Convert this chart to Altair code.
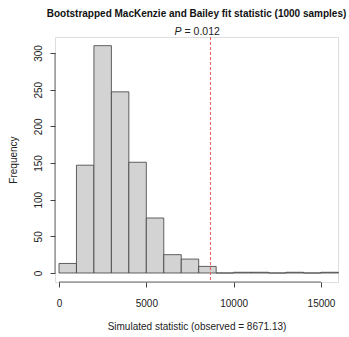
import altair as alt
import pandas as pd

# ---- data ----
bin_starts = [0, 1000, 2000, 3000, 4000, 5000, 6000, 7000, 8000, 9000,
              10000, 11000, 12000, 13000, 14000, 15000]
bin_ends = [1000, 2000, 3000, 4000, 5000, 6000, 7000, 8000, 9000, 10000,
            11000, 12000, 13000, 14000, 15000, 16000]
counts = [13, 147, 310, 247, 151, 75, 25, 19, 9, 0, 1, 1, 0, 1, 0, 1]
observed = 8671.13
p_text = "= 0.012"
x_ticks = [0, 5000, 10000, 15000]
y_ticks = [0, 50, 100, 150, 200, 250, 300]

title_text = "Bootstrapped MacKenzie and Bailey fit statistic (1000 samples)"
x_title = "Simulated statistic (observed = 8671.13)"
y_title = "Frequency"

FONT = "Liberation Sans"
FS = 10
W, H = 283, 245

bars_df = pd.DataFrame({"start": bin_starts, "end": bin_ends, "count": counts})
xaxis_df = pd.DataFrame({"x": [x_ticks[0]], "x2": [x_ticks[-1]]})
yaxis_df = pd.DataFrame({"y": [y_ticks[0]], "y2": [y_ticks[-1]]})
obs_df = pd.DataFrame({"obs": [observed]})
one = pd.DataFrame({"a": [0]})

xscale = alt.Scale(domain=[-229, 15975], nice=False, zero=False)
yscale = alt.Scale(domain=[-12.27, 321.8], nice=False, zero=False)

bars = alt.Chart(bars_df).mark_rect(
    fill="#D3D3D3", stroke="#3c3c3c", strokeWidth=0.8, clip=False
).encode(
    x=alt.X("start:Q", scale=xscale,
            axis=alt.Axis(values=x_ticks, title=x_title, domain=False, grid=False,
                          tickSize=5, tickColor="#444", labelPadding=11.5,
                          labelFontSize=FS, labelColor="#222", labelFont=FONT,
                          titleFont=FONT, titleFontSize=FS, titleFontWeight="normal",
                          titleColor="#222", titleY=44, titleBaseline="middle",
                          format="d", labelFlush=False)),
    x2="end:Q",
    y=alt.Y("count:Q", scale=yscale,
            axis=alt.Axis(values=y_ticks, title=y_title, domain=False, grid=False,
                          tickSize=5, tickColor="#444", labelPadding=7,
                          labelAngle=270, labelAlign="center", labelBaseline="bottom",
                          labelFontSize=FS, labelColor="#222", labelFont=FONT,
                          titleFont=FONT, titleFontSize=FS, titleFontWeight="normal",
                          titleColor="#222", titleX=-42, titleY=H / 2,
                          titleBaseline="middle", titleAngle=270,
                          format="d", labelFlush=False)),
    y2=alt.datum(0),
)

x_axis_line = alt.Chart(xaxis_df).mark_rule(color="#444", strokeWidth=0.8).encode(
    x=alt.X("x:Q", scale=xscale), x2="x2:Q", y=alt.value(H)
)
y_axis_line = alt.Chart(yaxis_df).mark_rule(color="#444", strokeWidth=0.8).encode(
    y=alt.Y("y:Q", scale=yscale), y2="y2:Q", x=alt.value(0)
)

obs_line = alt.Chart(obs_df).mark_rule(
    color="#f25a5a", strokeWidth=1, strokeDash=[3, 2]
).encode(x=alt.X("obs:Q", scale=xscale), y=alt.value(0), y2=alt.value(H))

p_italic = alt.Chart(one).mark_text(
    text="P", font=FONT, fontSize=FS + 0.5, fontStyle="italic", color="#222",
    align="right", baseline="middle"
).encode(x=alt.value(W / 2 - 15), y=alt.value(-5))

p_rest = alt.Chart(one).mark_text(
    text=p_text, font=FONT, fontSize=FS + 0.5, color="#222",
    align="left", baseline="middle"
).encode(x=alt.value(W / 2 - 12), y=alt.value(-5))

chart = alt.layer(bars, x_axis_line, y_axis_line, obs_line, p_italic, p_rest).properties(
    width=W, height=H,
    title=alt.TitleParams(title_text, font=FONT, fontSize=10, fontWeight="bold",
                          color="#111", anchor="middle", offset=8),
    autosize=alt.AutoSizeParams(type="none"),
    padding={"left": 55, "top": 37, "right": 11, "bottom": 55},
).configure_view(stroke=None).configure(background="white")

chart.save("out.html", embed_options={"renderer": "svg", "actions": False})
